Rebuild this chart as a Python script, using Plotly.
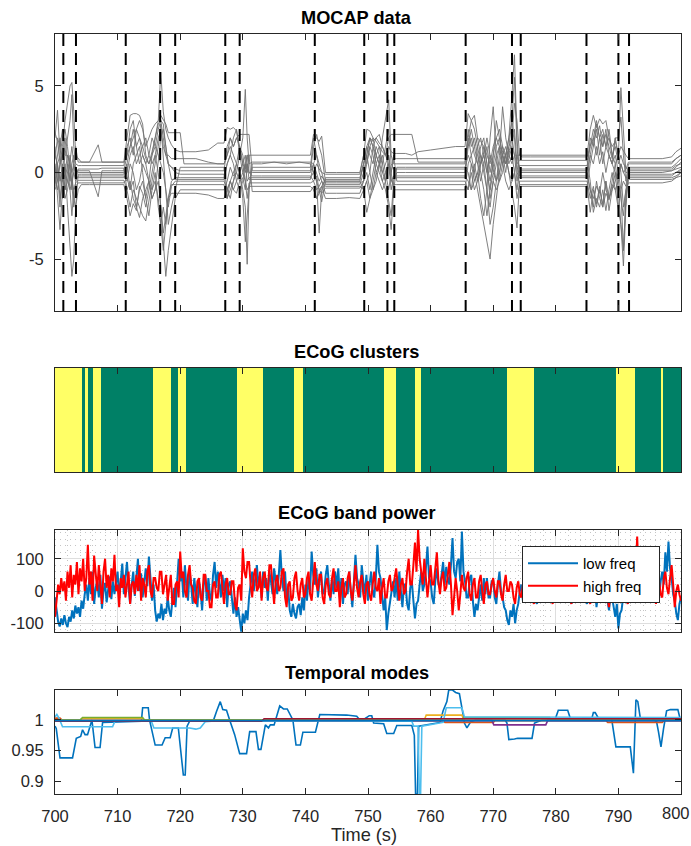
import plotly.graph_objects as go

# ---------------- MOCAP data ----------------
MOCAP_T = [700.0, 700.4, 700.8, 701.2, 701.6, 702.0, 702.4, 702.7, 703.0, 703.3, 703.7, 704.2,
           705.5, 706.9, 707.5, 709.0,
           711.0, 711.5, 712.0, 712.5, 713.0, 713.5, 714.0, 714.5, 715.0, 715.5, 716.0, 716.5,
           716.9, 717.3, 717.7, 718.1, 718.6, 719.2, 720.0, 720.6,
           722.5, 724.5, 726.0,
           727.0, 727.5, 728.0, 728.5, 729.0, 729.5, 730.0, 730.4, 730.7, 731.0, 731.5,
           733.0, 735.0, 737.0, 739.0,
           740.8, 741.3, 741.8, 742.2, 742.6, 743.2,
           745.0, 747.0,
           748.7, 749.3, 749.8, 750.3, 750.8, 751.3, 751.8, 752.3, 752.8, 753.3, 753.7, 754.1, 754.6,
           756.0, 757.0, 758.0, 760.0, 762.0, 764.0,
           765.5, 766.0, 766.5, 767.0, 767.5, 768.0, 768.5, 769.0, 769.5, 770.0, 770.5, 771.0,
           771.5, 772.0, 772.5, 773.0, 773.4, 773.8, 774.2, 774.6,
           776.0, 778.0, 780.0, 782.0, 784.0,
           785.0, 785.5, 786.0, 786.5, 787.0, 787.5, 788.0, 788.5, 789.0, 789.5, 790.0, 790.4,
           790.8, 791.2, 791.6, 792.0,
           793.0, 795.0, 797.0, 798.5, 799.2, 800.0]

MOCAP_CH01 = [2.3, 1.8, 0.5, 1.5, 3.0, 4.0, 5.0, 5.2, 3.5, 1.0, 0.8, 0.6,
              0.6, 1.6, 0.6, 0.6,
              0.6, 2.0, 3.3, 3.4, 3.4, 3.3, 2.8, 1.0, 0.5, 1.2, 2.0, 3.0, 5.8, 3.5, 2.5, 2.0, 1.6, 1.3, 1.2, 1.2,
              1.2, 1.3, 1.7,
              1.7, 2.6, 2.5, 2.6, 2.4, 1.5, 0.5, 0.2, 1.0, 1.0, 1.0,
              1.0, 1.0, 1.0, 1.0,
              1.0, 2.2, 2.0, 1.8, 2.1, 0.0,
              0.0, 0.0,
              0.0, 1.0, 2.5, 2.4, 2.0, 1.8, 1.5, 1.2, 1.0, 1.5, 1.2, 1.1, 1.1,
              1.1, 1.0, 1.2, 1.3, 1.4, 1.5,
              1.5, 3.4, 3.0, 3.3, 2.0, 1.8, 1.5, 1.0, 0.5, 1.5, 2.0, 1.5, 1.2, 1.0, 1.3, 1.5, 1.0, 1.0, 1.0, 1.0,
              1.0, 1.0, 1.0, 1.0, 1.0,
              1.0, 2.5, 3.3, 2.6, 3.1, 2.8, 3.0, 2.0, 1.5, 1.8, 1.0, 1.5, 1.2, 1.0, 0.8, 0.8,
              0.8, 0.8, 0.8, 0.9, 1.2, 1.4]
MOCAP_CH02 = [1.0, 0.5, -1.5, -0.5, 0.5, -2.0, -4.5, -6.0, -5.0, -2.0, -1.0, -0.7,
              -0.7, -0.7, -0.7, -0.7,
              -0.7, -1.5, -2.5, -1.8, -2.2, -0.8, -1.2, -2.0, -1.0, 0.0, 1.0, 0.0, -2.0, -4.5, -6.0, -4.5, -3.0, -1.5, -1.0, -1.0,
              -1.0, -1.0, -1.0,
              -1.0, -0.5, 0.3, -0.2, 0.0, 1.0, 2.0, 4.8, 2.0, 0.5, 0.6,
              0.6, 0.6, 0.6, 0.6,
              0.6, 0.5, -0.5, -3.5, -1.0, -0.3,
              -0.3, -0.3,
              -0.3, 0.5, 1.0, 0.0, 1.5, 1.0, 0.5, 2.0, 3.0, 4.2, 1.0, 0.5, 0.5,
              0.5, 0.5, 0.5, 0.5, 0.5, 0.5,
              0.5, 2.5, 1.5, 2.0, 1.0, 0.0, -1.0, -2.5, -1.0, 1.0, 2.0, 2.5, 1.5, 0.5, 1.0, 2.0, 4.0, 3.0, 1.0, 0.9,
              0.9, 0.9, 0.9, 0.9, 0.9,
              0.9, 1.5, 2.5, 2.0, 2.7, 1.5, 2.2, 1.5, 0.8, 2.0, 2.0, 3.2, 1.0, -0.5, 0.5, 0.5,
              0.5, 0.5, 0.5, 0.5, 0.8, 1.0]
MOCAP_CH03 = [2.0, 3.6, 1.0, -0.5, 1.0, 2.0, 3.0, 4.5, 1.5, 0.5, 0.4, 0.4,
              0.4, 0.4, 0.4, 0.4,
              0.4, 1.5, 2.0, 1.0, 2.5, 3.0, 2.5, 1.5, 2.0, 2.5, 2.8, 3.0, 3.3, 3.0, 2.8, 2.3, 2.3, 2.3, 2.3, 0.5,
              0.5, 0.5, 0.5,
              0.5, 1.0, 1.5, 1.0, 0.5, 0.0, -1.0, -2.0, -5.3, -1.0, 0.5,
              0.5, 0.6, 0.5, 0.6,
              0.5, 0.0, -0.5, -1.0, -1.7, -0.5,
              -0.5, -0.5,
              -0.5, -1.0, -2.3, -1.5, -0.5, 0.5, 0.0, -0.5, -1.0, -2.0, -3.3, -1.0, 0.3,
              0.3, 0.3, 0.3, 0.3, 0.3, 0.3,
              0.3, 1.0, 0.5, 0.0, -1.0, -2.0, -3.0, -4.0, -5.0, -3.0, -1.5, 0.0, 1.0, 0.5, 0.8, 1.5, 2.5, 0.5, 0.7, 0.7,
              0.7, 0.7, 0.7, 0.7, 0.7,
              0.7, -0.5, -2.3, -1.5, -2.0, -1.0, -2.2, -1.0, 0.0, -1.0, -2.0, -3.0, -4.5, -1.5, 0.2, 0.2,
              0.2, 0.2, 0.2, 0.2, 0.4, 0.5]
MOCAP_CH04 = [0.5, -1.5, -3.3, -1.0, 0.0, 1.0, 0.5, -1.0, -2.0, -0.5, 0.2, 0.2,
              0.2, 0.2, 0.25, 0.25,
              0.25, -1.0, -2.0, -1.0, -1.5, -2.0, -2.5, -2.8, -1.5, -0.5, 0.5, 1.5, 2.8, 1.0, -1.0, -3.0, -2.0, -1.0, 0.3, 0.3,
              0.3, 0.3, 0.3,
              0.3, -1.0, -0.5, 0.0, 0.5, 0.0, -1.5, -4.0, -2.5, -1.0, 0.3,
              0.3, 0.3, 0.3, 0.3,
              0.3, 2.0, 1.0, 0.5, 0.0, -0.1,
              -0.1, -0.1,
              -0.1, 1.0, 0.5, 1.5, 2.0, 1.0, 1.5, 0.5, -0.5, -1.5, -2.5, -0.5, 0.0,
              0.0, 0.0, 0.0, 0.0, 0.0, 0.0,
              0.0, 2.0, 1.0, 1.5, 0.5, -0.5, 0.5, -1.0, -3.0, -2.0, -0.5, 1.0, 3.8, 2.0, 1.0, 0.5, 1.0, -0.5, 0.4, 0.4,
              0.4, 0.4, 0.4, 0.4, 0.4,
              0.4, 1.5, 2.0, 1.0, 2.0, 0.5, 1.5, 1.0, 0.5, 2.0, 1.0, 4.9, 2.5, 0.0, 0.0, 0.0,
              0.0, 0.0, 0.0, 0.1, 0.3, 0.6]
MOCAP_CH05 = [-0.5, 0.5, 1.0, 2.0, 2.5, 1.5, 0.0, -1.0, 0.5, 0.0, 0.1, 0.1,
              0.1, -1.4, 0.1, 0.1,
              0.1, 1.0, 1.5, 2.5, 1.5, 0.5, 1.0, 0.5, -0.5, -1.5, -1.0, 0.5, 2.0, 2.5, 1.5, 0.5, 0.3, 0.2, 0.1, 0.1,
              0.1, 0.1, 0.1,
              0.1, 1.5, 2.0, 1.5, 2.0, 2.2, 2.2, 2.2, 2.2, 2.2, 0.1,
              0.1, 0.1, 0.1, 0.1,
              0.1, 1.5, 2.2, 1.5, 1.0, -0.5,
              -0.5, -0.5,
              -0.5, 0.5, 1.5, 2.0, 1.8, 2.0, 1.7, 1.5, 1.0, 0.5, -1.0, -0.3, -0.3,
              -0.3, -0.3, -0.3, -0.3, -0.3, -0.3,
              -0.3, 1.5, 2.5, 1.5, 2.0, 1.0, 0.5, 1.5, 0.0, 1.0, 3.0, 2.0, 1.0, 1.5, 0.5, 1.0, 0.0, 1.0, 0.2, 0.2,
              0.2, 0.2, 0.2, 0.2, 0.2,
              0.2, 2.0, 1.5, 2.5, 1.0, 2.2, 1.5, 2.5, 1.0, 0.5, -1.0, -3.0, -5.4, -2.0, -0.2, -0.2,
              -0.2, -0.2, -0.2, -0.2, 0.0, 0.2]
MOCAP_CH06 = [1.5, 0.0, -2.0, 0.5, -1.0, 0.0, 1.0, 0.0, -1.5, -2.0, -0.1, -0.1,
              -0.1, -0.1, -0.1, -0.1,
              -0.1, 0.5, -1.0, 0.5, 1.0, 1.5, 0.0, -1.5, -0.5, 1.0, 2.0, 2.8, 3.0, 2.8, 1.5, 0.5, 0.3, 0.0, -0.1, -0.1,
              -0.1, -0.1, -0.1,
              -0.1, -1.5, -1.0, -0.5, 0.5, 1.5, 1.0, 0.0, 0.5, 0.0, 0.0,
              0.0, 0.0, 0.0, 0.0,
              0.0, 0.5, 0.0, -0.5, -0.2, -0.6,
              -0.6, -0.6,
              -0.6, -0.5, 0.5, 1.5, 1.0, 0.0, 0.5, 1.0, 0.0, -1.0, 0.0, 1.0, -0.5,
              -0.5, -0.5, -0.5, -0.5, -0.5, -0.5,
              -0.5, -1.0, 0.5, -0.5, 0.0, 1.0, 0.0, -1.0, 2.0, 3.8, 1.0, -0.5, 0.0, 1.0, 2.0, 4.5, 6.8, 2.0, 0.0, 0.0,
              0.0, 0.0, 0.0, 0.0, 0.0,
              0.0, -1.0, -2.0, -0.5, -1.5, -2.0, -0.5, -1.5, -1.0, 0.0, -2.0, -1.0, -4.5, -1.5, -0.4, -0.4,
              -0.4, -0.4, -0.4, -0.4, -0.3, -0.2]
MOCAP_CH07 = [-1.0, -0.5, 0.5, 1.0, 0.0, -0.5, -1.0, -0.5, 0.0, -0.5, -0.2, -0.2,
              -0.2, -0.2, -0.2, -0.2,
              -0.2, -0.5, 0.5, 0.0, -1.0, -0.5, 0.5, 0.0, -0.5, -1.0, 0.0, -2.0, -3.0, -4.5, -3.0, -1.5, -0.5, -0.3, -0.3, -0.3,
              -0.3, -0.3, -0.3,
              -0.3, 0.5, 1.0, 0.5, -0.5, -1.0, -0.5, 0.5, 1.0, 0.0, -0.2,
              -0.2, -0.2, -0.2, -0.2,
              -0.2, -0.5, -1.0, -0.8, -0.5, -0.8,
              -0.8, -0.8,
              -0.8, -1.0, -0.5, 0.0, -1.0, -0.5, 0.5, 0.0, -0.5, 1.0, 0.0, -1.0, -1.0,
              -1.0, -1.0, -1.0, -1.0, -1.0, -1.0,
              -1.0, 0.5, 1.0, 0.0, 1.5, 2.0, 1.0, 0.0, 1.0, 0.5, -0.5, 0.0, 1.0, 0.0, 1.5, 3.0, 5.5, 1.5, -0.2, -0.2,
              -0.2, -0.2, -0.2, -0.2, -0.2,
              -0.2, -1.0, -1.5, -0.8, -1.2, 0.0, -1.0, -1.5, -0.5, 0.5, 1.0, 0.0, -2.0, -1.0, -0.6, -0.6,
              -0.6, -0.6, -0.6, -0.5, -0.3, 0.0]
MOCAP_CH08 = [0.0, 1.0, 2.0, 0.0, -1.0, -0.5, 0.5, 1.5, 0.5, -0.3, -0.3, -0.3,
              -0.3, -0.3, -0.3, -0.3,
              -0.3, 0.0, 1.0, 1.5, 0.5, 1.0, 1.5, 0.8, 0.5, 1.0, 1.5, 1.0, 0.5, 0.0, -1.0, -2.0, -0.8, -0.5, -0.5, -0.5,
              -0.5, -0.5, -0.5,
              -0.5, -1.0, -1.5, -0.5, 0.0, -0.5, -0.3, -1.0, 0.5, -0.4, -0.4,
              -0.4, -0.4, -0.4, -0.4,
              -0.4, 0.5, 1.0, 0.0, -0.5, -1.2,
              -1.2, -1.2,
              -1.2, -0.5, 1.0, 2.0, 1.5, 0.5, 1.0, 0.5, 1.5, 2.5, 0.5, 0.2, 0.2,
              0.2, 0.2, 0.2, 0.2, 0.2, 0.2,
              0.2, 0.0, -1.0, 0.5, -0.5, 0.5, 1.5, 0.5, -1.5, -0.5, 0.5, 1.5, 0.5, 1.0, 0.0, -1.0, -2.0, -3.2, -0.5, -0.5,
              -0.5, -0.5, -0.5, -0.5, -0.5,
              -0.5, -1.5, -0.8, -2.0, -1.0, -1.8, -0.5, -2.2, -1.0, -0.5, 0.0, -1.0, -0.5, -0.8, 0.3, 0.3,
              0.3, 0.3, 0.3, 0.3, 0.5, 0.8]
MOCAP_CH09 = [-0.3, -1.0, 0.0, -1.5, -0.5, 0.5, -1.0, -2.5, -1.0, -0.6, -0.45, -0.45,
              -0.45, -0.45, -0.45, -0.45,
              -0.45, -1.0, -0.5, -1.5, -2.0, -1.0, -0.5, -1.5, -2.5, -1.0, -0.5, -1.5, -3.0, -2.0, -3.0, -1.5, -0.7, -0.7, -0.7, -0.7,
              -0.7, -0.7, -0.7,
              -0.7, -1.5, -0.5, -1.0, -1.2, -0.5, 0.0, -0.5, -1.5, -0.6, -0.6,
              -0.6, -0.6, -0.6, -0.6,
              -0.6, -0.5, -0.2, -1.0, -0.8, -1.5,
              -1.5, -1.45,
              -1.5, -1.0, -0.5, -1.5, -1.0, 0.0, -0.5, -1.0, -0.5, 0.5, -0.5, -0.2, -0.2,
              -0.2, -0.2, -0.2, -0.2, -0.2, -0.2,
              -0.2, -0.5, -1.0, -0.5, 0.0, -1.5, -2.5, -1.0, -2.0, -0.5, -1.0, -0.5, 0.5, -0.5, -1.0, -0.5, 0.0, -1.5, -0.7, -0.7,
              -0.7, -0.7, -0.7, -0.7, -0.7,
              -0.7, -2.3, -1.0, -1.8, -0.8, -2.0, -1.2, -1.6, -0.7, -1.0, -0.5, -1.5, -2.5, -1.0, -0.1, -0.1,
              -0.1, -0.1, -0.1, -0.1, 0.0, 0.1]
MOCAP_CH10 = [0.8, 2.0, 1.5, 2.5, 1.0, 1.0, 0.5, 0.0, 0.5, 1.5, 0.6, 0.6,
              0.6, 0.6, 0.6, 0.6,
              0.6, 1.0, 2.5, 3.0, 1.5, 2.0, 1.0, 0.5, 1.0, 2.0, 1.5, 2.5, 3.0, 2.0, 1.0, 1.0, 0.8, 0.8, 0.8, 0.8,
              0.8, 0.6, 0.5,
              0.5, 1.0, 2.0, 1.5, 2.0, 1.5, 0.5, 1.0, 0.0, 1.0, -1.1,
              -1.1, -1.1, -1.1, -1.1,
              -1.1, -0.8, -1.5, -1.0, -1.2, -0.9,
              -0.9, -0.9,
              -0.9, -0.5, 0.0, -1.0, 0.0, 1.0, 0.5, -0.5, 0.0, 0.5, 0.0, 0.8, 0.8,
              0.8, 0.8, 0.8, 0.8, 0.8, 0.8,
              0.8, 1.5, 2.0, 1.0, 0.5, 1.5, 2.0, 0.5, -0.5, 0.5, 1.5, 2.0, 1.0, 0.5, 1.5, 2.0, 1.0, 0.5, -0.8, -0.8,
              -0.8, -0.8, -0.8, -0.8, -0.8,
              -0.8, 0.5, 1.5, 2.8, 2.0, 2.5, 1.5, 2.0, 1.0, 1.5, 0.5, 1.0, 0.5, 0.3, 0.1, 0.1,
              0.1, 0.1, 0.1, 0.1, 0.2, 0.3]
MOCAP_CH11 = [-0.8, 0.5, -0.5, 0.0, -1.5, -1.0, 0.0, -0.5, -1.0, -0.8, -0.6, -0.6,
              -0.6, -0.6, -0.6, -0.6,
              -0.6, -0.3, -1.0, -0.5, -2.0, -2.6, -1.5, -1.0, -0.5, -1.5, -1.0, -0.5, -2.0, -3.5, -2.5, -1.5, -1.2, -1.2, -1.2, -1.2,
              -1.2, -1.3, -1.5,
              -1.5, -1.0, -0.5, -1.0, -0.5, 0.0, 0.5, -0.5, -1.0, -0.8, -0.8,
              -0.8, -0.8, -0.8, -0.8,
              -0.8, -1.0, -1.5, -1.2, -0.8, -0.4,
              -0.4, -0.4,
              -0.4, 0.5, 1.5, 1.0, 0.5, 1.5, 1.0, 0.0, 0.5, 1.0, -0.5, -0.7, -0.7,
              -0.7, -0.7, -0.7, -0.7, -0.7, -0.7,
              -0.7, -1.0, 0.0, -1.0, -0.5, 0.5, 1.0, 0.0, -1.0, 0.0, -0.5, 0.5, 1.5, 1.0, 0.0, -0.5, 0.0, -1.0, 0.1, 0.1,
              0.1, 0.1, 0.1, 0.1, 0.1,
              0.1, 1.0, 0.5, 1.5, 0.5, 1.2, 0.0, 1.0, 0.5, 0.0, -0.5, 0.5, 0.0, -0.3, -0.3, -0.3,
              -0.3, -0.3, -0.3, -0.3, -0.2, 0.0]
MOCAP_CH12 = [0.2, -0.5, 0.5, 1.0, 2.0, 0.5, -0.5, 0.5, 1.0, 0.3, 0.0, 0.0,
              0.0, 0.0, 0.0, 0.0,
              0.0, 0.5, 1.5, 2.0, 2.5, 2.0, 1.5, 2.0, 1.0, 0.5, 1.0, 2.0, 2.5, 1.5, 1.0, 0.5, -0.4, -0.4, -0.4, -0.4,
              -0.4, -0.4, -0.4,
              -0.4, 0.5, 1.0, 2.0, 2.5, 1.0, 0.0, 0.5, -0.5, -0.3, -0.3,
              -0.3, -0.3, -0.3, -0.3,
              -0.3, 0.0, 0.5, 0.2, 0.0, -0.7,
              -0.7, -0.7,
              -0.7, 0.0, 1.0, 2.0, 1.5, 2.0, 2.2, 1.5, 1.0, 2.0, 2.2, 2.2, 2.2,
              2.2, 2.2, 0.6, 0.6, 0.6, 0.6,
              0.6, 2.0, 3.0, 2.5, 1.5, 0.5, 1.0, 2.0, 1.0, 0.0, 1.0, 1.5, 0.5, 1.0, 2.0, 3.0, 2.0, 0.0, -0.3, -0.3,
              -0.3, -0.3, -0.3, -0.3, -0.3,
              -0.3, 1.0, 2.0, 3.0, 2.0, 1.5, 2.5, 1.0, 0.5, 1.0, 0.0, 0.5, 0.0, 0.2, 0.6, 0.6,
              0.6, 0.6, 0.6, 0.6, 0.8, 1.0]

# segment boundaries (dashed lines), seconds
BOUNDARY_T = [701.33, 703.35, 711.3, 716.8, 719.2, 727.2, 729.5, 741.5, 749.4,
              753.1, 754.2, 765.6, 773.0, 774.4, 784.9, 790.0, 791.7]

# ---------------- ECoG clusters ----------------
CLUSTER_EDGES = [700, 704.38, 704.73, 705.29, 706.13, 707.40, 715.70, 718.51, 719.71, 720.97,
                 729.07, 733.29, 738.23, 739.62, 752.51, 754.41, 757.51, 758.42, 772.28,
                 776.58, 789.60, 792.68, 796.77, 797.06, 800]
CLUSTER_LABELS = [1, 0, 1, 0, 1, 0, 1, 0, 1, 0, 1, 0, 1, 0, 1, 0, 1, 0, 1, 0, 1, 0, 1, 0]

# ---------------- ECoG band power (0.25 s samples) ----------------
BAND_T = [700 + 0.25 * i for i in range(401)]
BAND_LOW = [
    -20, -60, -95, -110, -85, -105, -75, -100, -112, -80, -95, -60, -85, -45, -70, -50, -80, -30, -55, -10,
    20, -30, 40, -10, 60, -40, 10, 30, -20, 50, -55, 0, 25, -35, 15, 45, -25, 30, -10, 20,
    60, -20, 30, 85, -10, 50, 90, 10, -40, 20, 60, -15, 40, 100, 0, 55, -20, 30, 70, 15,
    107, 40, -30, 20, -60, -95, -70, -85, -40, -90, -55, -70, -20, -60, -80, -30, 10, -50, 20, 100,
    30, 60, -20, 80, 10, -30, 60, 20, -40, 40, -10, -50, 30, 0, -60, 20, 50, -30, 40, -10,
    -30, 50, 90, 10, 60, 30, -20, 50, 0, 40, -50, 20, 30, -30, -70, -20, -80, -50, -100, -126,
    -70, -100, -60, -90, -20, 20, 60, 0, 40, 80, 10, 50, -20, 60, 10, 40, -30, 60, 30, -10,
    70, 20, -10, 50, 127, 40, 0, 60, -30, 10, -60, -80, -40, -70, -85, -50, -40, -75, -20, -60,
    20, -30, 40, 0, 122, 50, 20, 70, -20, 30, 60, -10, 0, 50, 80, 20, -30, 40, -10, 60,
    10, 70, -20, 40, -40, 20, 30, -10, 60, 0, -50, 30, 112, 40, 20, -20, 80, 30, -10, 50,
    -30, 20, 60, 0, -20, 40, 143, 60, 40, -10, -60, -20, -121, -70, -40, 0, 30, -20, 40, -30,
    60, 0, -50, 20, 20, -40, -60, 10, 30, -30, -85, -40, -30, 20, 60, 0, 20, 70, 138, 40,
    30, -20, -40, 30, 70, 20, 10, 50, 90, 20, 75, 40, 20, 80, 164, 60, 40, 90, 100, 30,
    184, 60, 30, -20, -20, 40, 50, -30, -80, -40, -60, -20, 20, -30, 40, -10, 40, -20, -20, 30,
    30, -20, -40, 20, 60, 0, -20, -50, -60, -90, -105, -60, -80, -40, -100, -60, -40, 0, 20, -30,
    -30, 20, 40, -10, -20, 30, 30, -20, -40, 10, 20, -30, -30, 20, 50, 0, 0, -30, -20, 20,
    40, -10, -30, 20, 20, -20, -10, 30, 60, 0, -40, 20, 10, -20, 30, -10, -30, 20, 20, -20,
    -40, 10, 40, -20, 0, 30, -50, -10, 30, -20, -20, 20, 40, -30, -60, -10, -20, -50, -80, -40,
    -116, -70, -60, -20, 20, -10, -40, 10, 30, -20, -20, 30, 60, 10, 0, 40, 40, -20, -30, 20,
    80, 30, 20, -20, 100, 40, -20, 30, 60, 20, 120, 60, 153, 70, 40, -10, -30, -70, -90, -40,
    -20]
BAND_HIGH = [
    -80, -20, 20, -10, 40, 0, 30, -30, 60, 10, 80, -20, 50, 20, 90, -10, 70, 30, 100, 0,
    40, 143, 20, 60, -30, 110, 40, 0, 80, 20, -40, 60, 100, 10, 50, -20, 70, 30, 112, 0,
    20, -50, 40, 10, 50, -20, 30, 60, -40, 20, 30, -10, 50, 0, 80, -30, 40, 20, -20, 60,
    80, 0, -20, 40, 40, 10, 0, 60, 60, -10, 20, 50, -30, 10, 50, -40, -40, 20, 30, -20,
    122, 40, 60, 0, -20, 50, 80, 20, 10, -30, -40, 30, 40, -20, -30, 50, 50, 0, 0, -50,
    -50, 20, 30, -20, -20, 50, 60, 10, -40, 20, 40, -10, -10, 30, 30, -40, -60, 10, 20, -30,
    132, 60, 40, 90, 90, 20, -20, 50, 70, 0, 10, 60, -30, 40, 60, 10, 0, 80, 80, 20,
    -40, 30, 50, 0, 10, 60, 70, -20, -50, 20, 30, -30, -20, 40, 60, 0, -30, 20, 40, -20,
    -10, 40, 60, -10, -30, 30, 90, 20, 0, 50, 50, -20, -40, 20, 40, -10, -20, 40, 70, 0,
    0, 30, -50, 10, 40, -20, -10, 40, 60, 0, -30, 20, 80, 10, -20, 30, 50, -10, -40, 20,
    30, -10, -30, 20, 60, 10, 0, 40, -40, 10, 40, -20, -20, 30, 50, 0, 10, 40, 70, 20,
    -30, 20, 40, -10, 0, 60, 100, 20, 20, 80, 150, 60, 190, 100, 60, 20, 100, 40, -20, 30,
    80, 20, 20, 70, 120, 30, -10, 40, 60, 0, 10, 50, 90, 20, -75, -20, 40, 0, -60, -10,
    50, 10, 0, 40, 60, -10, -30, 20, 40, -20, -20, 30, 50, 0, -40, 20, 30, -10, -10, 20,
    40, 0, -20, 30, 30, -10, -30, 20, 50, 0, 0, 30, 20, -20, -40, 10, 30, -10, -20, 20,
    40, 0, -30, 20, 20, -20, -40, 10, 30, -10, -20, 30, 40, 0, -30, 20, 20, -20, -40, 10,
    30, -10, -20, 20, 40, 0, -30, 10, 20, -20, -40, 20, 30, 0, -10, 20, 40, -10, -30, 10,
    20, -20, -40, 10, 30, 0, -20, 20, 40, 0, -30, 10, 20, -20, -50, 10, 30, 0, -20, 20,
    40, 0, -30, 20, 20, -20, -40, 30, 60, 20, 0, 50, 169, 40, 20, -10, -30, 20, 50, 0,
    -20, 30, 40, 0, -40, 20, 30, -10, -20, 40, 60, 10, -10, 40, 80, 20, -50, 0, 20, -10,
    -30]

# ---------------- Temporal modes ----------------
TM1_T = [700.0, 700.2, 700.8, 702.8, 703.4, 704.1, 704.4, 704.8, 705.2, 705.6, 705.9, 706.4, 707.2, 707.6,
         713.8, 714.0, 714.9, 715.1, 716.0, 717.1, 717.6, 718.4, 718.8, 719.7, 720.1, 720.5, 720.8, 721.1,
         721.5, 725.3, 725.8, 726.4, 726.8, 727.4, 727.9, 728.7, 729.5, 730.6, 731.1, 732.1, 732.5, 732.9,
         733.6, 734.1, 734.4, 735.0, 735.9, 736.5, 737.1, 738.0, 738.5, 739.2, 739.6, 741.6, 742.3, 745.0,
         746.6, 748.2, 748.7, 749.5, 750.2, 750.6, 750.9, 752.5, 753.0, 754.1, 754.6, 757.0, 757.4, 757.6,
         757.9, 758.1, 761.5, 762.0, 762.6, 762.9, 763.5, 764.0, 764.6, 765.1, 765.4, 765.8, 766.4, 767.2,
         771.9, 772.2, 772.5, 773.4, 773.9, 776.2, 776.6, 777.8, 779.9, 780.4, 781.9, 782.4, 785.7, 786.0,
         786.3, 786.8, 788.9, 789.6, 791.9, 792.4, 792.8, 793.1, 793.5, 795.3, 796.1, 796.4, 796.8, 797.2,
         797.7, 798.3, 799.5, 799.9, 800.0]
TM1_V = [0.990, 0.986, 0.938, 0.938, 0.970, 0.973, 0.984, 0.976, 0.976, 0.992, 1.000, 0.955, 0.955, 0.996,
         0.998, 1.020, 1.020, 1.000, 0.959, 0.959, 0.971, 0.971, 0.987, 0.987, 0.948, 0.910, 0.910, 0.990,
         0.998, 0.999, 1.014, 1.030, 1.017, 1.016, 1.000, 0.976, 0.945, 0.945, 0.981, 0.981, 0.952, 0.952,
         0.992, 0.987, 0.992, 0.992, 1.023, 1.018, 1.018, 1.000, 0.959, 0.959, 0.980, 0.980, 1.009, 1.008,
         1.008, 1.006, 1.000, 1.002, 1.007, 1.007, 0.995, 0.994, 0.978, 0.978, 0.991, 0.991, 0.975, 0.879,
         0.879, 0.990, 0.996, 1.015, 1.030, 1.049, 1.049, 1.045, 1.043, 1.014, 0.995, 0.987, 0.997, 1.000,
         1.000, 0.995, 0.968, 0.969, 0.970, 0.970, 0.995, 1.000, 1.001, 1.016, 1.016, 1.000, 1.000, 1.012,
         1.012, 1.003, 1.003, 0.956, 0.956, 0.913, 1.033, 1.030, 1.003, 1.003, 0.997, 0.981, 0.956, 0.985,
         1.015, 1.017, 1.017, 1.000, 1.000]
TM2_T = [700.0, 700.8, 701.2, 762.0, 762.3, 770.0, 770.3, 788.0, 788.3, 797.0, 797.3, 800.0]
TM2_V = [1.003, 1.003, 0.999, 0.999, 0.996, 0.996, 0.999, 0.999, 0.996, 0.996, 0.999, 0.999]
TM3_T = [700.0, 704.0, 704.3, 714.0, 714.3, 759.0, 759.3, 765.0, 765.3, 800.0]
TM3_V = [1.000, 1.000, 1.002, 1.002, 1.000, 1.000, 1.008, 1.008, 1.000, 1.000]
TM4_T = [700.0, 769.8, 770.1, 778.4, 778.7, 800.0]
TM4_V = [0.999, 0.999, 0.992, 0.992, 0.999, 0.999]
TM5_T = [700.0, 704.0, 704.4, 714.0, 714.3, 765.0, 765.3, 779.0, 779.3, 800.0]
TM5_V = [1.000, 1.000, 1.004, 1.004, 1.000, 1.000, 1.004, 1.004, 1.000, 1.000]
TM6_T = [700.0, 700.3, 700.6, 701.2, 709.2, 709.6, 715.4, 715.8, 721.5, 722.5, 723.2, 724.0, 725.0,
         745.0, 757.0, 757.3, 758.0, 758.2, 758.4, 758.6, 762.0, 762.5, 765.0, 765.4, 800.0]
TM6_V = [1.005, 1.009, 1.004, 0.989, 0.989, 0.999, 0.998, 0.987, 0.987, 0.985, 0.987, 0.997, 0.998,
         0.999, 0.998, 0.990, 0.990, 0.879, 0.879, 0.990, 0.996, 1.020, 1.020, 1.005, 1.004]
TM7_T = [700.0, 733.0, 733.4, 800.0]
TM7_V = [0.998, 0.998, 1.002, 1.002]
TM8_T = [700.0, 800.0]
TM8_V = [0.999, 0.999]

MODE_COLORS = ["#0072BD", "#D95319", "#EDB120", "#7E2F8E", "#77AC30", "#4DBEEE", "#A2142F", "#0072BD"]

XT = list(range(700, 801, 10))
XT_LABELS = [str(v) for v in XT]

# ---------------- layout helpers ----------------
W, H = 691, 846
FONT = "Liberation Sans, Arial, Helvetica, sans-serif"
AX = "#262626"
XDOM = [55 / W, 681 / W]


def ydom(top, bottom):
    return [1 - bottom / H, 1 - top / H]


fig = go.Figure()

for ch in [MOCAP_CH01, MOCAP_CH02, MOCAP_CH03, MOCAP_CH04, MOCAP_CH05, MOCAP_CH06,
           MOCAP_CH07, MOCAP_CH08, MOCAP_CH09, MOCAP_CH10, MOCAP_CH11, MOCAP_CH12]:
    n = min(len(ch), len(MOCAP_T))
    fig.add_trace(go.Scatter(x=MOCAP_T[:n], y=ch[:n], mode="lines",
                             line=dict(color="#727272", width=0.9), showlegend=False,
                             hoverinfo="skip", xaxis="x", yaxis="y"))
bx, by = [], []
for t in BOUNDARY_T:
    bx += [t, t, None]
    by += [8, -8, None]
fig.add_trace(go.Scatter(x=bx, y=by, mode="lines",
                         line=dict(color="black", width=2, dash="12px,7px"),
                         showlegend=False, hoverinfo="skip", xaxis="x", yaxis="y"))

fig.add_trace(go.Heatmap(x=CLUSTER_EDGES, y=[0, 1], z=[CLUSTER_LABELS], zmin=0, zmax=1,
                         colorscale=[[0, "#008066"], [1, "#ffff66"]], showscale=False,
                         hoverinfo="skip", xaxis="x2", yaxis="y2"))

fig.add_trace(go.Scatter(x=BAND_T, y=BAND_LOW, mode="lines", name="low freq\u00a0\u00a0\u00a0",
                         line=dict(color="#0072BD", width=2), xaxis="x3", yaxis="y3"))
fig.add_trace(go.Scatter(x=BAND_T, y=BAND_HIGH, mode="lines", name="high freq\u00a0\u00a0\u00a0",
                         line=dict(color="#FF0000", width=2), xaxis="x3", yaxis="y3"))

modes = [(TM1_T, TM1_V), (TM2_T, TM2_V), (TM3_T, TM3_V), (TM4_T, TM4_V), (TM5_T, TM5_V),
         (TM6_T, TM6_V), (TM7_T, TM7_V), (TM8_T, TM8_V)]
for (tt, vv), c in zip(modes, MODE_COLORS):
    fig.add_trace(go.Scatter(x=tt, y=vv, mode="lines", line=dict(color=c, width=1.6),
                             showlegend=False, hoverinfo="skip", xaxis="x4", yaxis="y4"))

tickfont = dict(family=FONT, size=16.5, color=AX)


def xax(anchor, labels=False, grid=False):
    # the last label ("800") is drawn separately so it stays inside the page
    d = dict(domain=XDOM, anchor=anchor, range=[700, 800], tickmode="array", tickvals=XT,
             ticktext=XT_LABELS[:-1] + [""], showticklabels=labels, ticks="inside",
             ticklen=6, tickwidth=1, tickcolor=AX, showline=True, linecolor=AX, linewidth=1.2,
             mirror="ticks", zeroline=False, showgrid=grid, tickfont=tickfont,
             automargin=False, ticklabeloverflow="allow", ticklabelstandoff=7)
    if grid:
        d.update(gridcolor="#dedede", gridwidth=1,
                 minor=dict(tickvals=[v for v in range(702, 800, 2) if v % 10 != 0],
                            showgrid=True, gridcolor="#c4c4c4", griddash="1px,4px", gridwidth=1))
    return d


def yax(anchor, top, bottom, rng, vals=None, text=None, grid=False, minorvals=None):
    d = dict(domain=ydom(top, bottom), anchor=anchor, range=rng, ticks="inside" if vals else "",
             ticklen=6, tickwidth=1, tickcolor=AX, showline=True, linecolor=AX, linewidth=1.2,
             mirror="ticks" if vals else True, zeroline=False, showgrid=grid, tickfont=tickfont,
             showticklabels=bool(vals), automargin=False, ticklabeloverflow="allow",
             ticklabelstandoff=7)
    if vals:
        d.update(tickmode="array", tickvals=vals, ticktext=text)
    if grid:
        d.update(gridcolor="#dedede", gridwidth=1,
                 minor=dict(tickvals=minorvals, showgrid=True, gridcolor="#c4c4c4",
                            griddash="1px,4px", gridwidth=1))
    return d


fig.update_layout(
    width=W, height=H, margin=dict(l=0, r=0, t=0, b=0),
    paper_bgcolor="white", plot_bgcolor="white",
    font=dict(family=FONT, color=AX),
    xaxis=xax("y"),
    yaxis=yax("x", 34, 311, [-8, 8], [-5, 0, 5], ["-5", "0", "5"]),
    xaxis2=xax("y2"),
    yaxis2=yax("x2", 368, 472, [0, 1]),
    xaxis3=xax("y3", grid=True),
    yaxis3=yax("x3", 530, 632, [-127, 189], [-100, 0, 100], ["-100", "0", "100"], grid=True,
               minorvals=[v for v in range(-120, 190, 20) if v % 100 != 0]),
    xaxis4=xax("y4", labels=True),
    yaxis4=yax("x4", 690, 794, [0.879, 1.049], [0.9, 0.95, 1.0], ["0.9", "0.95", "1"]),
    legend=dict(x=522 / W, y=1 - 546 / H, xanchor="left", yanchor="top",
                bgcolor="white", bordercolor=AX, borderwidth=1, itemwidth=50,
                font=dict(family=FONT, size=15, color="black"), tracegroupgap=0),
    showlegend=True,
)

# last x tick label, nudged left so that it is not cut by the page edge
fig.add_annotation(text=XT_LABELS[-1], x=XT[-1], xref="x4", xshift=-5, y=1 - 812.5 / H,
                   yref="paper", xanchor="center", yanchor="middle", showarrow=False,
                   font=tickfont)

tc = 357 / W
for txt, ypx in [("MOCAP data", 18), ("ECoG clusters", 352), ("ECoG band power", 513),
                 ("Temporal modes", 673)]:
    fig.add_annotation(text="<b>%s</b>" % txt, x=tc, y=1 - ypx / H, xref="paper", yref="paper",
                       xanchor="center", yanchor="middle", showarrow=False,
                       font=dict(family=FONT, size=18.2, color="black"))
fig.add_annotation(text="Time (s)", x=363.5 / W, y=1 - 835 / H, xref="paper", yref="paper",
                   xanchor="center", yanchor="middle", showarrow=False,
                   font=dict(family=FONT, size=18.2, color=AX))

fig.write_html("out.html")
